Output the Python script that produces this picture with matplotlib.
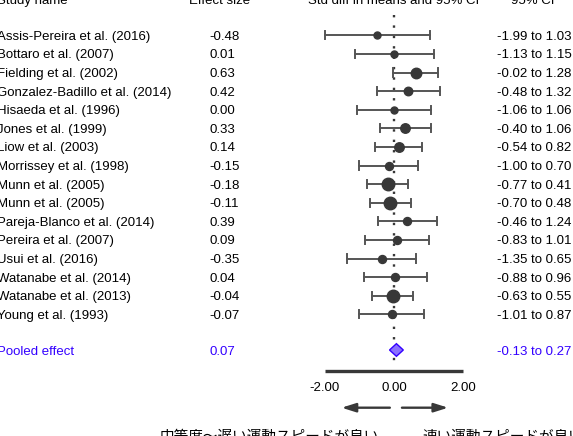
import numpy as np
import matplotlib.pyplot as plt
from matplotlib.transforms import blended_transform_factory

plt.rcParams['font.family'] = ['Liberation Sans', 'Noto Sans CJK JP', 'DejaVu Sans']

studies = ['Assis-Pereira et al. (2016)', 'Bottaro et al. (2007)', 'Fielding et al. (2002)',
           'Gonzalez-Badillo et al. (2014)', 'Hisaeda et al. (1996)', 'Jones et al. (1999)',
           'Liow et al. (2003)', 'Morrissey et al. (1998)', 'Munn et al. (2005)',
           'Munn et al. (2005)', 'Pareja-Blanco et al. (2014)', 'Pereira et al. (2007)',
           'Usui et al. (2016)', 'Watanabe et al. (2014)', 'Watanabe et al. (2013)',
           'Young et al. (1993)']
effect = [-0.48, 0.01, 0.63, 0.42, 0.00, 0.33, 0.14, -0.15, -0.18, -0.11, 0.39, 0.09,
          -0.35, 0.04, -0.04, -0.07]
lower = [-1.99, -1.13, -0.02, -0.48, -1.06, -0.40, -0.54, -1.00, -0.77, -0.70, -0.46, -0.83,
         -1.35, -0.88, -0.63, -1.01]
upper = [1.03, 1.15, 1.28, 1.32, 1.06, 1.06, 0.82, 0.70, 0.41, 0.48, 1.24, 1.01,
         0.65, 0.96, 0.55, 0.87]
# relative study weight -> marker size
weight = [7, 7, 10.5, 8.5, 7, 9.5, 9.5, 8, 12.5, 12.5, 8, 8, 8, 8, 12.5, 8]

pooled = 0.07
pooled_lo = -0.13
pooled_hi = 0.27

ticks = [-2, 0, 2]
left_label = '中等度～遅い運動スピードが良い'
right_label = '速い運動スピードが良い'

# pixel layout: row 0 at y0, row pitch dy, x=0 at x0, px per unit sx
y0, dy = 35.3, 18.6
x0, sx = 394, 34.5

fig = plt.figure(figsize=(5.73, 4.36), dpi=100)
ax = fig.add_axes([0, 0, 1, 1])
ax.set_xlim(-x0 / sx, (573 - x0) / sx)
ax.set_ylim((436 - y0) / dy, -y0 / dy)
ax.axis('off')


def row_of(py):
    return (py - y0) / dy


tr = blended_transform_factory(ax.transAxes, ax.transData)
fs = 9.5
gray = '#555555'
dark = '#383838'
blue = '#3300ff'
va = 'center_baseline'

# headers (cut off at top)
yh = row_of(-0.5)
ax.text(-0.005, yh, 'Study name', transform=tr, fontsize=fs, va=va, ha='left')
ax.text(220 / 573, yh, 'Effect size', transform=tr, fontsize=fs, va=va, ha='center')
ax.text(0, yh, 'Std diff in means and 95% CI', fontsize=fs, va=va, ha='center')
ax.text(533 / 573, yh, '95% CI', transform=tr, fontsize=fs, va=va, ha='center')

rows = np.arange(len(studies))
ax.plot([0, 0], [row_of(15), row_of(368)], color=dark, lw=1.7, ls=(0, (1, 3.4)), zorder=1)

for i in rows:
    ax.text(-0.005, i, studies[i], transform=tr, fontsize=fs, va=va, ha='left')
    ax.text(209 / 573, i, f'{effect[i]:.2f}', transform=tr, fontsize=fs, va=va, ha='left')
    ax.text(497 / 573, i, f'{lower[i]:.2f} to {upper[i]:.2f}', transform=tr, fontsize=fs,
            va=va, ha='left')
    ax.plot([lower[i], upper[i]], [i, i], color=gray, lw=1.4, zorder=2)
    for c in (lower[i], upper[i]):
        ax.plot([c, c], [i - 0.22, i + 0.22], color=gray, lw=1.4, zorder=2)
    ax.plot(effect[i], i, 'o', color=dark, markersize=weight[i] / 1.389, zorder=3)

# pooled effect
yp = row_of(350)
ax.text(-0.005, yp, 'Pooled effect', transform=tr, fontsize=fs, va=va, ha='left', color=blue)
ax.text(209 / 573, yp, f'{pooled:.2f}', transform=tr, fontsize=fs, va=va, ha='left', color=blue)
ax.text(497 / 573, yp, f'{pooled_lo:.2f} to {pooled_hi:.2f}', transform=tr, fontsize=fs,
        va=va, ha='left', color=blue)
ax.fill([pooled_lo, pooled, pooled_hi, pooled], [yp, yp - 0.34, yp, yp + 0.34],
        facecolor='#8a70ff', edgecolor=blue, lw=1.0, zorder=3)

# axis
ya = row_of(371)
ax.plot([ticks[0], ticks[-1]], [ya, ya], color=dark, lw=2.4, solid_capstyle='butt')
for t in ticks:
    ax.text(t, row_of(386), f'{t:.2f}', fontsize=fs, ha='center', va=va)

# direction arrows
yr = row_of(407.7)
style = '-|>,head_length=0.7,head_width=0.22'
ax.annotate('', xy=(-1.52, yr), xytext=(-0.12, yr),
            arrowprops=dict(arrowstyle=style, color=dark, lw=1.7,
                            mutation_scale=12, shrinkA=0, shrinkB=0))
ax.annotate('', xy=(1.57, yr), xytext=(0.23, yr),
            arrowprops=dict(arrowstyle=style, color=dark, lw=1.7,
                            mutation_scale=12, shrinkA=0, shrinkB=0))

yb = row_of(435)
ax.text(160 / 573, yb, left_label, transform=tr, fontsize=10.5, ha='left', va=va)
ax.text(422 / 573, yb, right_label, transform=tr, fontsize=10.5, ha='left', va=va)

fig.savefig('out.png', dpi=100)
